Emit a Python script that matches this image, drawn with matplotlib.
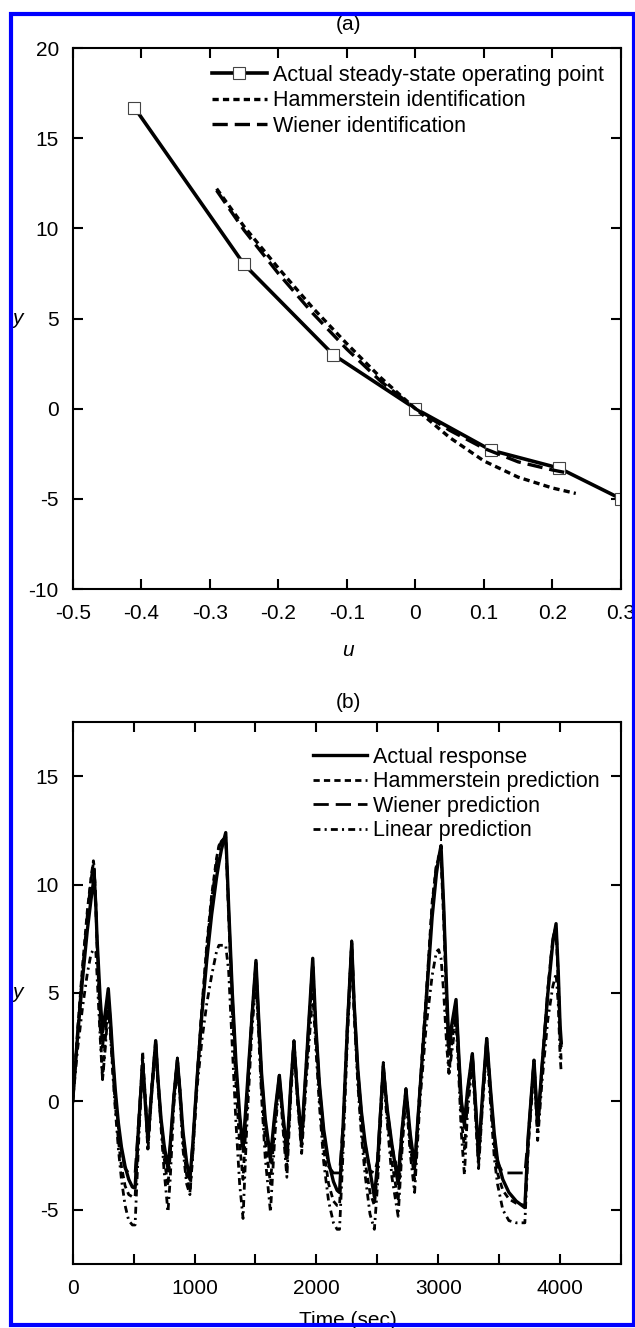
import matplotlib.pyplot as plt
from matplotlib.patches import Rectangle

plt.rcParams["font.family"] = ["Liberation Sans", "DejaVu Sans"]
plt.rcParams["lines.scale_dashes"] = False

# (a) steady-state curves
u_actual = [-0.41, -0.25, -0.12, 0.0, 0.11, 0.21, 0.30]
y_actual = [16.7, 8.0, 3.0, 0.0, -2.3, -3.3, -5.0]
u_hamm = [-0.29, -0.25, -0.2, -0.15, -0.1, -0.05, 0.0, 0.05, 0.1, 0.15, 0.2, 0.234]
y_hamm = [12.2, 10.1, 7.8, 5.6, 3.6, 1.7, 0.0, -1.6, -2.9, -3.8, -4.4, -4.7]
u_wien = [-0.29, -0.25, -0.2, -0.15, -0.1, -0.05, 0.0, 0.05, 0.1, 0.15, 0.2, 0.22]
y_wien = [12.1, 9.9, 7.5, 5.3, 3.3, 1.5, 0.0, -1.2, -2.2, -2.95, -3.4, -3.55]

# (b) time responses
t_resp = [0, 40, 80, 120, 150, 170, 177, 190, 200, 225, 245, 265, 292, 310, 330, 350, 375,
          400, 430, 460, 490, 512, 540, 574, 595, 617, 650, 681, 700, 725, 750, 782, 800,
          830, 859, 880, 905, 935, 962, 985, 1020, 1060, 1100, 1140, 1180, 1200, 1220, 1256,
          1280, 1310, 1340, 1370, 1398, 1430, 1470, 1504, 1525, 1550, 1580, 1623, 1660, 1696,
          1725, 1758, 1790, 1816, 1845, 1879, 1920, 1970, 1995, 2025, 2060, 2100, 2140, 2170,
          2190, 2220, 2255, 2290, 2310, 2340, 2370, 2400, 2440, 2476, 2500, 2549, 2580, 2620,
          2671, 2700, 2735, 2770, 2806, 2850, 2900, 2950, 2985, 3003, 3023, 3045, 3070, 3088,
          3110, 3146, 3170, 3190, 3215, 3240, 3280, 3305, 3331, 3360, 3398, 3430, 3460, 3486,
          3530, 3580, 3640, 3711, 3740, 3786, 3816, 3850, 3900, 3940, 3967, 3985, 4000, 4010]
y_resp = [0.0, 3.0, 5.6, 7.9, 9.3, 10.1, 10.4, 9.0, 7.5, 4.8, 3.2, 4.0, 5.2, 3.8, 2.0, 0.5,
          -1.0, -2.1, -3.0, -3.6, -3.95, -4.0, -1.2, 1.7, 0.0, -1.8, 0.6, 2.8, 1.0, -0.8, -2.0,
          -3.1, -2.0, 0.2, 1.9, 0.5, -1.4, -2.8, -3.6, -2.0, 1.0, 4.0, 6.5, 8.6, 10.3, 11.0,
          11.6, 12.4, 9.0, 5.0, 1.8, -0.6, -2.2, 0.5, 3.8, 6.5, 4.0, 1.3, -0.8, -2.6, -0.5, 1.2,
          -0.6, -2.3, 0.8, 2.7, 0.3, -1.7, 2.0, 6.6, 3.5, 0.8, -1.3, -2.8, -3.7, -4.1, -4.2,
          -1.0, 3.5, 7.3, 4.5, 1.5, -0.5, -1.9, -3.2, -4.4, -3.0, 1.6, -0.3, -2.0, -3.8, -1.5,
          0.55, -1.5, -3.0, 0.5, 4.5, 8.5, 10.5, 11.2, 11.8, 9.0, 5.0, 2.5, 3.5, 4.7, 2.0, 0.0,
          -1.0, 0.5, 2.2, 0.0, -2.5, 0.0, 2.9, 0.5, -1.5, -2.7, -3.6, -4.2, -4.6, -4.9, -1.5,
          1.9, -1.1, 1.5, 5.0, 7.3, 8.2, 6.0, 3.5, 2.7]
y_hamm_pred = [0.0, 3.3, 6.2, 8.8, 10.3, 11.1, 10.8, 9.0, 7.2, 3.5, 1.0, 2.6, 4.8, 3.3, 1.4,
               -0.2, -1.8, -3.0, -3.9, -4.3, -4.4, -4.4, -1.5, 2.3, 0.3, -2.2, 0.8, 2.8, 1.0,
               -1.0, -2.6, -3.9, -2.5, 0.2, 2.0, 0.5, -1.8, -3.4, -4.2, -2.4, 1.0, 4.3, 7.2,
               9.5, 11.2, 11.8, 12.0, 12.2, 8.5, 4.2, 0.8, -2.0, -3.6, -0.2, 3.8, 6.3, 3.6, 0.6,
               -1.8, -3.8, -1.0, 1.2, -0.9, -3.0, 0.6, 2.8, 0.2, -2.2, 1.8, 6.2, 3.0, 0.2, -2.2,
               -3.8, -4.6, -4.8, -4.8, -1.4, 3.6, 7.4, 4.3, 1.0, -1.2, -2.8, -4.2, -4.8, -3.4,
               1.8, -0.6, -2.8, -4.6, -2.0, 0.6, -2.0, -3.6, 0.6, 4.8, 9.2, 10.9, 11.2, 11.2,
               8.3, 4.2, 1.3, 2.6, 4.3, 1.4, -0.8, -2.2, 0.0, 2.2, -0.3, -2.9, -0.2, 2.9, 0.2,
               -2.0, -3.3, -4.1, -4.5, -4.7, -4.8, -1.8, 1.9, -1.4, 1.3, 5.2, 7.5, 8.0, 5.5, 2.8,
               1.8]
y_wien_pred = [0.0, 3.2, 6.0, 8.6, 10.2, 11.0, 10.8, 9.0, 7.3, 4.2, 2.5, 3.5, 5.0, 3.6, 1.8,
               0.3, -1.2, -2.3, -3.1, -3.3, -3.3, -3.3, -1.0, 1.9, 0.2, -1.8, 0.7, 2.8, 1.0,
               -0.9, -2.2, -3.2, -2.1, 0.2, 2.0, 0.5, -1.5, -2.9, -3.3, -2.0, 1.0, 4.2, 7.0,
               9.3, 11.0, 11.7, 12.0, 12.2, 8.8, 4.8, 1.5, -0.8, -2.4, 0.3, 3.9, 6.4, 3.9, 1.2,
               -1.0, -2.8, -0.6, 1.2, -0.7, -2.4, 0.8, 2.8, 0.3, -1.8, 2.0, 6.5, 3.4, 0.7, -1.5,
               -3.0, -3.3, -3.3, -3.3, -1.0, 3.6, 7.4, 4.5, 1.4, -0.6, -2.0, -3.2, -3.3, -2.8,
               1.7, -0.3, -2.1, -3.3, -1.5, 0.6, -1.6, -3.1, 0.6, 4.7, 9.0, 10.9, 11.3, 11.5,
               8.8, 4.8, 2.2, 3.3, 4.6, 1.9, -0.1, -1.2, 0.4, 2.2, 0.0, -2.5, 0.0, 2.9, 0.4,
               -1.6, -2.8, -3.3, -3.3, -3.3, -3.3, -1.5, 1.9, -1.1, 1.5, 5.2, 7.5, 8.1, 5.8, 3.3,
               2.5]
y_lin_pred = [0.0, 2.4, 4.3, 5.9, 6.8, 7.0, 7.0, 6.9, 5.8, 3.0, 1.0, 2.3, 4.3, 3.0, 1.2,
              -0.4, -2.2, -3.6, -4.8, -5.5, -5.7, -5.7, -2.0, 1.8, 0.2, -2.3, 0.5, 2.3, 0.8,
              -1.2, -3.2, -5.1, -3.6, -0.2, 1.6, 0.2, -2.2, -3.8, -4.3, -2.5, 0.6, 2.8, 4.5,
              5.8, 6.9, 7.2, 7.2, 7.2, 6.0, 2.5, -1.0, -3.8, -5.4, -1.0, 3.2, 5.6, 3.2, 0.2,
              -2.6, -5.1, -1.5, 1.0, -1.2, -3.5, 0.3, 2.4, 0.0, -2.4, 1.2, 5.0, 2.5, -0.2, -2.8,
              -4.6, -5.6, -5.9, -5.9, -2.2, 3.0, 6.8, 4.0, 0.8, -1.6, -3.4, -5.2, -5.9, -4.0,
              1.3, -0.9, -3.5, -5.3, -2.5, 0.3, -2.4, -4.2, 0.0, 3.4, 5.8, 6.9, 7.0, 6.6, 5.0,
              2.5, 1.3, 2.2, 3.8, 1.0, -1.5, -3.4, -0.5, 1.8, -0.6, -3.1, -0.5, 2.5, -0.2, -2.6,
              -3.8, -5.0, -5.5, -5.6, -5.6, -2.0, 1.5, -1.8, 0.8, 3.8, 5.3, 5.9, 4.5, 2.1, 1.3]

W, H = 635, 1328
FS = 15
fig = plt.figure(figsize=(W / 100, H / 100), dpi=100)


def frac(x0, y0, x1, y1):
    return [x0 / W, 1 - y1 / H, (x1 - x0) / W, (y1 - y0) / H]


def style(ax):
    for s in ax.spines.values():
        s.set_linewidth(1.5)
    ax.tick_params(direction="in", top=True, right=True, length=7.5, width=1.5,
                   labelsize=FS)
    ax.tick_params(axis="y", pad=10)
    ax.tick_params(axis="x", pad=11)


ax1 = fig.add_axes(frac(72.7, 48, 621, 589))
ax1.plot(u_actual, y_actual, color="black", lw=2.6, marker="s", ms=8.6,
         mfc="white", mec="#444444", mew=0.8, label="Actual steady-state operating point")
ax1.plot(u_hamm, y_hamm, color="black", lw=2.4, ls=(0, (4.5, 3)),
         label="Hammerstein identification")
ax1.plot(u_wien, y_wien, color="black", lw=2.4, ls=(0, (11, 5)),
         label="Wiener identification")
ax1.set_xlim(-0.5, 0.3)
ax1.set_ylim(-10, 20)
ax1.set_xticks([-0.5, -0.4, -0.3, -0.2, -0.1, 0, 0.1, 0.2, 0.3])
ax1.set_xticklabels(["-0.5", "-0.4", "-0.3", "-0.2", "-0.1", "0", "0.1", "0.2", "0.3"])
ax1.set_yticks([-10, -5, 0, 5, 10, 15, 20])
ax1.set_yticklabels(["-10", "-5", "0", "5", "10", "15", "20"])
style(ax1)
ax1.legend(loc="upper left", bbox_to_anchor=(212 / W, 1 - 65 / H),
           bbox_transform=fig.transFigure, frameon=False, fontsize=15.5,
           handlelength=2.55, handletextpad=0.28, labelspacing=0.2,
           borderpad=0, borderaxespad=0)

ax2 = fig.add_axes(frac(72.7, 722, 621, 1264))
ax2.plot(t_resp, y_resp, color="black", lw=2.4, label="Actual response")
ax2.plot(t_resp, y_hamm_pred, color="black", lw=2.0, ls=(0, (4.5, 3)),
         label="Hammerstein prediction")
ax2.plot(t_resp, y_wien_pred, color="black", lw=2.0, ls=(0, (11, 5)),
         label="Wiener prediction")
ax2.plot(t_resp, y_lin_pred, color="black", lw=2.0, ls=(0, (5, 3, 1.5, 3)),
         label="Linear prediction")
ax2.set_xlim(0, 4500)
ax2.set_ylim(-7.5, 17.5)
ax2.set_xticks(range(0, 4501, 500))
ax2.set_xticklabels(["0", "", "1000", "", "2000", "", "3000", "", "4000", ""])
ax2.set_yticks([-5, 0, 5, 10, 15])
ax2.set_yticklabels(["-5", "0", "5", "10", "15"])
style(ax2)
ax2.legend(loc="upper left", bbox_to_anchor=(313 / W, 1 - 747 / H),
           bbox_transform=fig.transFigure, frameon=False, fontsize=15.5,
           handlelength=2.5, handletextpad=0.28, labelspacing=0.16,
           borderpad=0, borderaxespad=0)

fig.text(348 / W, 1 - 25 / H, "(a)", ha="center", va="center", fontsize=FS)
fig.text(348 / W, 1 - 650 / H, "u", ha="center", va="center", fontsize=FS, style="italic")
fig.text(17 / W, 1 - 318 / H, "y", ha="center", va="center", fontsize=FS, style="italic")
fig.text(348 / W, 1 - 702 / H, "(b)", ha="center", va="center", fontsize=FS)
fig.text(17 / W, 1 - 993 / H, "y", ha="center", va="center", fontsize=FS, style="italic")
fig.text(348 / W, 1 - 1320 / H, "Time (sec)", ha="center", va="center", fontsize=FS)

fig.patches.append(Rectangle((11 / W, 1 - 1325 / H), 622.5 / W, 1311 / H,
                             transform=fig.transFigure, fill=False,
                             edgecolor="#0000ff", linewidth=3.0, zorder=10))

fig.savefig("out.png", dpi=100)
